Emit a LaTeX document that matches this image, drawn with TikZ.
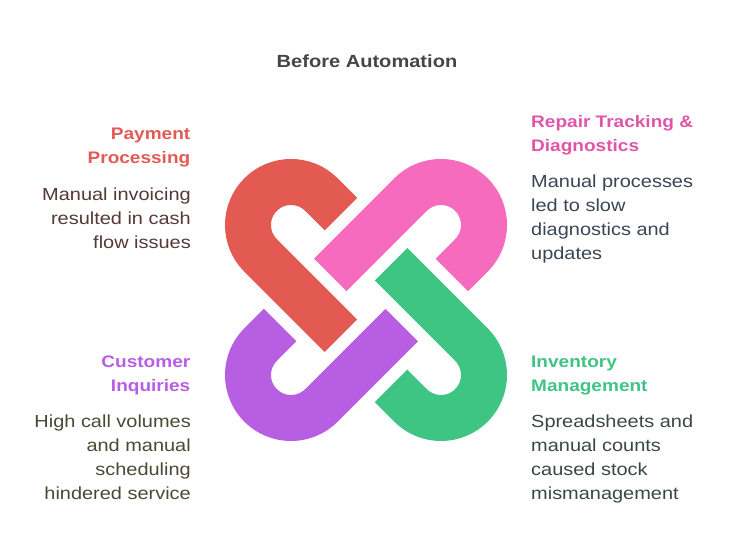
\documentclass[tikz,border=0pt]{standalone}
\usepackage{fontspec}
\setmainfont[FakeStretch=1.14]{Liberation Sans}
\usetikzlibrary{calc}

% band colours
\definecolor{linkred}{HTML}{E35A53}
\definecolor{linkpink}{HTML}{F76BBE}
\definecolor{linkgreen}{HTML}{3EC483}
\definecolor{linkpurple}{HTML}{B75EE3}
% heading colours
\definecolor{headred}{HTML}{E35A53}
\definecolor{headpink}{HTML}{E055A8}
\definecolor{headgreen}{HTML}{3EC483}
\definecolor{headpurple}{HTML}{B75EE3}
% body text colours
\definecolor{bodyred}{HTML}{553838}
\definecolor{bodypink}{HTML}{3A4556}
\definecolor{bodygreen}{HTML}{394843}
\definecolor{bodypurple}{HTML}{4A4935}
\definecolor{titlegray}{HTML}{454545}

\tikzset{
  band/.style={line width=46pt, line cap=butt},
  titletext/.style={inner sep=0pt, text=titlegray,
    font=\fontsize{17.6}{24}\selectfont\bfseries},
  headtext/.style={inner sep=0pt,
    font=\fontsize{16.7}{24}\selectfont\bfseries},
  bodytext/.style={inner sep=0pt,
    font=\fontsize{17.5}{24}\selectfont},
}

\begin{document}
\begin{tikzpicture}[x=1pt,y=1pt]
\useasboundingbox (0,0) rectangle (734,554);

% centre of the interlocking knot
\coordinate (O) at (366,254);

% four hairpin bands, each a quarter turn from the previous one
\foreach \ang/\col in {0/linkred,-90/linkpink,-180/linkgreen,-270/linkpurple}{
  \begin{scope}[rotate around={\ang:(O)}, shift={(291,329)}, rotate=-45]
    \draw[band, draw=\col]
      (27.6,43) -- (0,43) arc[start angle=90, end angle=270, radius=43]
      -- (113.6,-43);
  \end{scope}
}

% title
\node[titletext] (title) at (367,493) {Before Automation};

% upper left
\node[headtext, text=headred, align=right, anchor=north east]
  (payhead) at (190.5,426) {Payment\\Processing};
\node[bodytext, text=bodyred, align=right, anchor=north east]
  (paybody) at (191,366.5) {Manual invoicing\\resulted in cash\\flow issues};

% upper right
\node[headtext, text=headpink, align=left, anchor=north west]
  (repairhead) at (531,438.5) {Repair Tracking \&\\Diagnostics};
\node[bodytext, text=bodypink, align=left, anchor=north west]
  (repairbody) at (531,379) {Manual processes\\led to slow\\diagnostics and\\updates};

% lower left
\node[headtext, text=headpurple, align=right, anchor=north east]
  (custhead) at (190.5,198) {Customer\\Inquiries};
\node[bodytext, text=bodypurple, align=right, anchor=north east]
  (custbody) at (191,139) {High call volumes\\and manual\\scheduling\\hindered service};

% lower right
\node[headtext, text=headgreen, align=left, anchor=north west]
  (invhead) at (531,198) {Inventory\\Management};
\node[bodytext, text=bodygreen, align=left, anchor=north west]
  (invbody) at (531,139) {Spreadsheets and\\manual counts\\caused stock\\mismanagement};
\end{tikzpicture}
\end{document}
